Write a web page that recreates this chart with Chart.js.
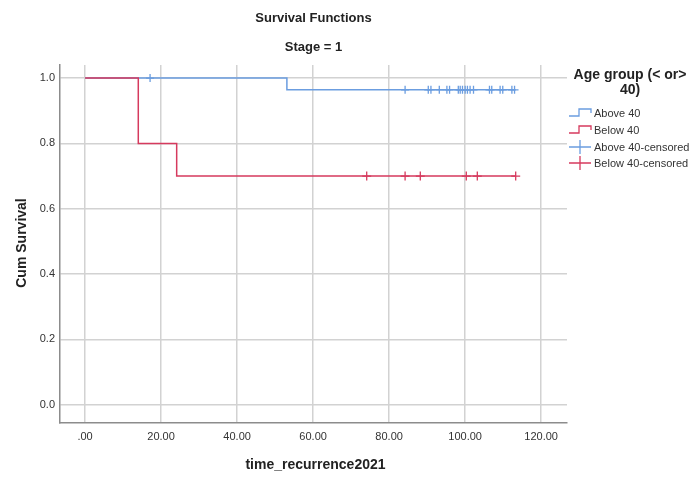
<!DOCTYPE html>
<html><head><meta charset="utf-8">
<script src="https://cdn.jsdelivr.net/npm/chart.js@4/dist/chart.umd.min.js"></script>
<style>html,body{margin:0;padding:0;background:#fff;}</style>
</head><body>
<canvas id="c" width="694" height="478"></canvas>
<script>
// ---- data ----
const xTicks = [0, 20, 40, 60, 80, 100, 120];
const yTicks = [0, 0.2, 0.4, 0.6, 0.8, 1.0];
const aboveStepTimes = [0, 53.1, 113.0];
const aboveStepSurv  = [1.0, 0.964, 0.964];
const belowStepTimes = [0, 14.0, 24.1, 113.3];
const belowStepSurv  = [1.0, 0.8, 0.7, 0.7];
const aboveCensored = [17.1, 84.2, 90.3, 91.0, 93.2, 95.2, 95.9, 98.2, 98.7, 99.3, 100.0, 100.6, 101.3, 102.2, 106.4, 107.0, 109.2, 109.9, 112.3, 113.0];
const belowCensored = [74.1, 84.2, 88.2, 100.3, 103.2, 113.3];
const seriesNames = ['Above 40', 'Below 40', 'Above 40-censored', 'Below 40-censored'];
const legendTitle = ['Age group (< or>', '40)'];
const chartTitle = 'Survival Functions';
const chartSubtitle = 'Stage = 1';
const xTitle = 'time_recurrence2021';
const yTitle = 'Cum Survival';

const BLUE = '#6b9de0';
const RED = '#d63a5e';

function survAt(times, surv, t) {
  let v = surv[0];
  for (let i = 0; i < times.length; i++) if (times[i] <= t) v = surv[i];
  return v;
}
const stepPts = (ts, ss) => ts.map((t, i) => ({x: t, y: ss[i]}));
const censPts = (cs, ts, ss) => cs.map(t => ({x: t, y: survAt(ts, ss, t)}));

const FONT = "'Liberation Sans', Arial, sans-serif";

const overlay = {
  id: 'overlay',
  afterDraw(chart) {
    const ctx = chart.ctx, a = chart.chartArea;
    const cx = (a.left + a.right) / 2;
    ctx.save();
    ctx.fillStyle = '#222';
    ctx.textAlign = 'center';
    ctx.textBaseline = 'middle';
    ctx.font = "bold 13px " + FONT;
    ctx.fillText(chartTitle, cx, 18);
    ctx.fillText(chartSubtitle, cx, 47);
    ctx.font = "bold 14px " + FONT;
    ctx.fillText(xTitle, cx + 2, 465);
    ctx.save();
    ctx.translate(22, 243);
    ctx.rotate(-Math.PI / 2);
    ctx.fillText(yTitle, 0, 0);
    ctx.restore();
    // legend
    ctx.font = "bold 14px " + FONT;
    ctx.fillText(legendTitle[0], 630, 75);
    ctx.fillText(legendTitle[1], 630, 90);
    ctx.font = "11px " + FONT;
    ctx.textAlign = 'left';
    const ys = [113, 130, 147, 163];
    const cols = [BLUE, RED, BLUE, RED];
    for (let i = 0; i < 4; i++) {
      const y = ys[i];
      ctx.strokeStyle = cols[i];
      ctx.lineWidth = 1.3;
      ctx.beginPath();
      if (i < 2) {
        ctx.moveTo(569, y + 3); ctx.lineTo(579, y + 3); ctx.lineTo(579, y - 4);
        ctx.lineTo(591, y - 4); ctx.lineTo(591, y);
      } else {
        ctx.moveTo(569, y); ctx.lineTo(591, y);
        ctx.moveTo(580, y - 7); ctx.lineTo(580, y + 7);
      }
      ctx.stroke();
      ctx.fillStyle = '#333';
      ctx.fillText(seriesNames[i], 594, y + 1);
    }
    ctx.restore();
  }
};

new Chart(document.getElementById('c'), {
  type: 'scatter',
  data: {
    datasets: [
      {label: seriesNames[0], data: stepPts(aboveStepTimes, aboveStepSurv), showLine: true, stepped: 'before',
       borderColor: BLUE, borderWidth: 1.5, pointRadius: 0, order: 4},
      {label: seriesNames[1], data: stepPts(belowStepTimes, belowStepSurv), showLine: true, stepped: 'before',
       borderColor: RED, borderWidth: 1.5, pointRadius: 0, order: 2},
      {label: seriesNames[2], data: censPts(aboveCensored, aboveStepTimes, aboveStepSurv), showLine: false,
       pointStyle: 'cross', pointRadius: 4, borderColor: BLUE, borderWidth: 1.3, backgroundColor: BLUE, order: 3},
      {label: seriesNames[3], data: censPts(belowCensored, belowStepTimes, belowStepSurv), showLine: false,
       pointStyle: 'cross', pointRadius: 4.5, borderColor: RED, borderWidth: 1.3, backgroundColor: RED, order: 1}
    ]
  },
  options: {
    responsive: false,
    animation: false,
    devicePixelRatio: 1,
    layout: {padding: {left: 0, top: 65, right: 127, bottom: 0}},
    plugins: {legend: {display: false}, tooltip: {enabled: false}, title: {display: false}},
    scales: {
      x: {
        type: 'linear', min: -6.6, max: 126.8,
        afterBuildTicks: s => { s.ticks = xTicks.map(v => ({value: v})); },
        afterFit: s => { s.height = 55; },
        ticks: {callback: v => v === 0 ? '.00' : Number(v).toFixed(2), color: '#333',
                font: {family: FONT, size: 11}, padding: 7, maxRotation: 0, autoSkip: false},
        grid: {color: '#d2d2d2', lineWidth: 1.5, drawTicks: false},
        border: {color: '#8c8c8c', width: 1.5}
      },
      y: {
        type: 'linear', min: -0.056, max: 1.04,
        afterBuildTicks: s => { s.ticks = yTicks.map(v => ({value: v})); },
        afterFit: s => { s.width = 60; },
        ticks: {callback: v => Number(v).toFixed(1), color: '#333',
                font: {family: FONT, size: 11}, padding: 5},
        grid: {color: '#d2d2d2', lineWidth: 1.5, drawTicks: false},
        border: {color: '#8c8c8c', width: 1.5}
      }
    }
  },
  plugins: [overlay]
});
</script>
</body></html>
